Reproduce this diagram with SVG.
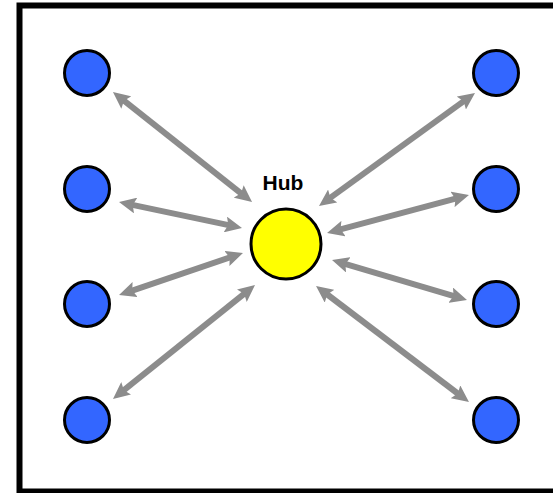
<svg xmlns="http://www.w3.org/2000/svg" width="553" height="493" viewBox="0 0 553 493">
  <style>
    .frame { fill: #ffffff; stroke: #000000; stroke-width: 6; }
    .spoke { fill: #3366ff; stroke: #000000; stroke-width: 3; }
    .hub { fill: #ffff00; stroke: #000000; stroke-width: 3; }
    .link { fill: none; stroke: #8c8c8c; stroke-width: 6; marker-start: url(#head); marker-end: url(#head); }
    .label { font-family: "Liberation Sans", Arial, sans-serif; font-weight: bold; font-size: 21px; fill: #000000; }
  </style>
  <defs>
    <marker id="head" markerUnits="userSpaceOnUse" markerWidth="17" markerHeight="16" refX="7" refY="8" orient="auto-start-reverse" viewBox="0 0 17 16">
      <path d="M0,0 L17,8 L0,16 L3,8 z" fill="#8c8c8c"/>
    </marker>
  </defs>

  <rect class="frame" x="19.5" y="5.5" width="560" height="486"/>

  <g id="connectors">
    <line class="link" x1="120.8" y1="98.2" x2="244.2" y2="195.8"/>
    <line class="link" x1="128.8" y1="204.1" x2="232.2" y2="225.9"/>
    <line class="link" x1="128.5" y1="291.8" x2="233.5" y2="256.2"/>
    <line class="link" x1="120.8" y1="392.7" x2="247.2" y2="291.3"/>
    <line class="link" x1="466.9" y1="98.9" x2="327.1" y2="200.1"/>
    <line class="link" x1="459.3" y1="197.6" x2="336.7" y2="230.4"/>
    <line class="link" x1="341.6" y1="262.8" x2="457.4" y2="297.2"/>
    <line class="link" x1="324" y1="292" x2="461" y2="396"/>
  </g>

  <g id="hub">
    <circle class="hub" cx="286" cy="244" r="35"/>
    <text class="label" x="283" y="190" text-anchor="middle">Hub</text>
  </g>

  <g id="left-1"><circle class="spoke" cx="87" cy="73" r="22.5"/></g>
  <g id="left-2"><circle class="spoke" cx="87" cy="189" r="22.5"/></g>
  <g id="left-3"><circle class="spoke" cx="87" cy="304" r="22.5"/></g>
  <g id="left-4"><circle class="spoke" cx="87" cy="420" r="22.5"/></g>
  <g id="right-1"><circle class="spoke" cx="496" cy="73" r="22.5"/></g>
  <g id="right-2"><circle class="spoke" cx="496" cy="189" r="22.5"/></g>
  <g id="right-3"><circle class="spoke" cx="496" cy="304" r="22.5"/></g>
  <g id="right-4"><circle class="spoke" cx="496" cy="420" r="22.5"/></g>
</svg>
